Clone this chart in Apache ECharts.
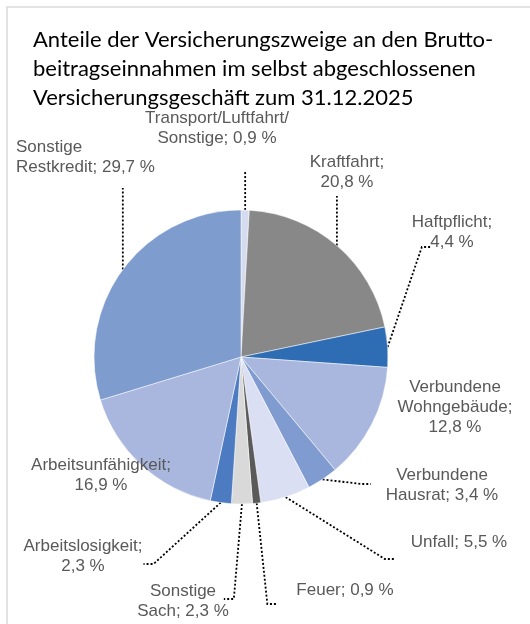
<!DOCTYPE html>
<html>
<head>
<meta charset="utf-8">
<script src="https://cdn.jsdelivr.net/npm/echarts@6/dist/echarts.min.js"></script>
<style>
  html, body { margin: 0; padding: 0; background: #fff; }
  #chart { width: 530px; height: 624px; }
</style>
</head>
<body>
<div id="chart"></div>
<script>
// Sparten, im Uhrzeigersinn ab 12 Uhr
var categories = ['Transport/Luftfahrt/\nSonstige', 'Kraftfahrt', 'Haftpflicht', 'Verbundene\nWohngebäude',
    'Verbundene\nHausrat', 'Unfall', 'Feuer', 'Sonstige\nSach', 'Arbeitslosigkeit', 'Arbeitsunfähigkeit',
    'Sonstige\nRestkredit'];
var shares = [0.9, 20.8, 4.4, 12.8, 3.4, 5.5, 0.9, 2.3, 2.3, 16.9, 29.7];
// Trenner zwischen "Name;" und Wert
var separators = [' ', '\n', '\n', '\n', ' ', ' ', ' ', ' ', '\n', '\n', ' '];
var colors = ['#D6DCF0', '#888888', '#2E6CB4', '#A9B7DF', '#7F9BD0', '#DADFF3', '#5A5A5A', '#D9D9D9',
    '#4C7BC1', '#A9B7DF', '#7F9CCF'];
// Lage der Beschriftungen (Mitte des Textblocks)
var labelPos = [[217, 128], [347, 172], [452, 232], [455, 407], [442, 485], [459, 542], [345, 590],
    [183, 601], [83, 556], [101, 475], [16, 157]];
// Abstand Linienende <-> Text, Versatz in y (wie Excel-Textfelder)
var leaderGap = [24, 4, -20, 0, 15, 16, 19, -5, 1, 0, 11];
var leaderDy = [0, 0, 15, 0, -1, 17, 14, -2, 8, 0, 0];
var noLine = [3, 9];

var chart = echarts.init(document.getElementById('chart'));

var data = [];
for (var i = 0; i < shares.length; i++) {
    data.push({
        name: categories[i],
        value: shares[i],
        itemStyle: { color: colors[i] },
        labelLine: { show: noLine.indexOf(i) < 0 }
    });
}

// Führungslinie: vom Segmentrand (Mittelwinkel) zur Beschriftung
function leaderLine(anchor, r, idx) {
    var gap = leaderGap[idx], tail = 10;
    if (anchor[0] >= r.x && anchor[0] <= r.x + r.width) {
        var ey = anchor[1] < r.y ? r.y - gap : r.y + r.height + gap;
        return [anchor, [anchor[0], ey], [anchor[0], ey]];
    }
    var my = r.y + r.height / 2 + leaderDy[idx];
    if (anchor[0] < r.x) {
        return [anchor, [r.x - gap - tail, my], [r.x - gap, my]];
    }
    return [anchor, [r.x + r.width + gap + tail, my], [r.x + r.width + gap, my]];
}

var option = {
    animation: false,
    graphic: [{
        type: 'rect',
        shape: { x: 7, y: 7, width: 700, height: 800 },
        style: { fill: 'none', stroke: '#D9D9D9', lineWidth: 1.5 },
        silent: true
    }],
    title: {
        text: 'Anteile der Versicherungszweige an den Brutto-\nbeitragseinnahmen im selbst abgeschlossenen\nVersicherungsgeschäft zum 31.12.2025',
        left: 28,
        top: 20,
        textStyle: {
            fontFamily: 'Lato',
            fontSize: 22,
            fontWeight: 'normal',
            color: '#000',
            lineHeight: 29
        }
    },
    series: [{
        type: 'pie',
        center: [241, 357],
        radius: [0, 147],
        startAngle: 90,
        clockwise: true,
        avoidLabelOverlap: false,
        itemStyle: { borderColor: '#fff', borderWidth: 0.5 },
        label: {
            show: true,
            position: 'outside',
            fontFamily: 'Liberation Sans',
            fontSize: 17,
            lineHeight: 20,
            color: '#595959',
            formatter: function (p) {
                var v = p.value.toFixed(1).replace('.', ',');
                return p.name + ';' + separators[p.dataIndex] + v + ' %';
            }
        },
        labelLine: {
            show: true,
            length: 5,
            length2: 5,
            lineStyle: { color: '#000', width: 1.8, type: [2, 2] }
        },
        labelLayout: function (params) {
            var idx = params.dataIndex;
            var pos = labelPos[idx];
            var w = params.labelRect.width, h = params.labelRect.height;
            var left = idx === 10;
            var r = { x: left ? pos[0] : pos[0] - w / 2, y: pos[1] - h / 2, width: w, height: h };
            var out = {
                x: pos[0],
                y: pos[1],
                align: left ? 'left' : 'center',
                verticalAlign: 'middle'
            };
            if (params.labelLinePoints && noLine.indexOf(idx) < 0) {
                out.labelLinePoints = leaderLine(params.labelLinePoints[0], r, idx);
            }
            return out;
        },
        emphasis: { disabled: true },
        data: data
    }]
};

chart.setOption(option);
</script>
</body>
</html>
